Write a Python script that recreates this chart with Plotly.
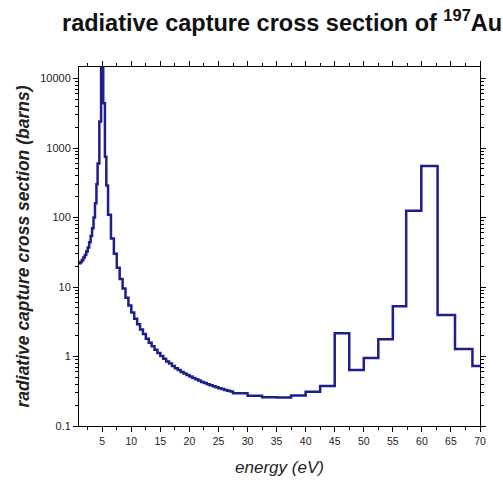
import plotly.graph_objects as go

# bin edges (eV) and radiative capture cross section per bin (barns)
edges = [1.0, 1.25, 1.5, 1.75, 2.0, 2.25, 2.5, 2.75, 3.0, 3.25, 3.5, 3.75, 4.0,
         4.2, 4.5, 4.8, 5.17, 5.46, 5.7, 6.0,
         6.5, 7.0, 7.5, 8.0, 8.5, 9.0, 9.5, 10.0, 10.5, 11.0, 11.5, 12.0, 12.5,
         13.0, 13.5, 14.0, 14.5, 15.0, 15.5, 16.0, 16.5, 17.0, 17.5, 18.0, 18.5,
         19.0, 19.5, 20.0, 20.5, 21.0, 21.5, 22.0, 22.5, 23.0, 23.5, 24.0, 24.5,
         25.0, 25.5, 26.0, 26.5, 27.0, 27.5, 30.0, 32.5, 35.0, 37.5, 40.0, 42.5,
         45.0, 47.5, 50.0, 52.5, 55.0, 57.3, 59.9, 62.7, 65.7, 68.7, 70.0]
sigma = [22, 23, 24.5, 26.5, 29, 32.5, 37, 44, 54, 70, 100, 160, 300,
         600, 2400, 18000, 4400, 750, 290,
         110, 50, 30, 19, 13, 9.5, 7, 5.4, 4.3, 3.5, 2.9, 2.45, 2.1, 1.8,
         1.58, 1.4, 1.25, 1.12, 1.02, 0.93, 0.85, 0.79, 0.73, 0.68, 0.64, 0.6,
         0.57, 0.54, 0.515, 0.49, 0.47, 0.45, 0.43, 0.415, 0.4, 0.385, 0.372,
         0.36, 0.35, 0.34, 0.33, 0.322, 0.314, 0.295, 0.272, 0.26, 0.258,
         0.275, 0.31, 0.375, 2.16, 0.64, 0.95, 1.77, 5.3, 125, 551, 3.95,
         1.28, 0.73]

x_ticks = [5, 10, 15, 20, 25, 30, 35, 40, 45, 50, 55, 60, 65, 70]
x_minor = [2.5, 7.5, 12.5, 17.5, 22.5, 27.5, 32.5, 37.5, 42.5, 47.5, 52.5,
           57.5, 62.5, 67.5]
y_ticks = [0.1, 1, 10, 100, 1000, 10000]
y_ticktext = ["0.1", "1", "10", "100", "1000", "10000"]
y_minor = [m * d for d in [0.1, 1, 10, 100, 1000, 10000] for m in range(2, 10)]

fig = go.Figure()
fig.add_trace(go.Scatter(
    x=edges, y=sigma + [sigma[-1]], mode="lines", line_shape="hv",
    line=dict(color="#1e1e8c", width=2.5), showlegend=False, hoverinfo="skip"))

axis_font = dict(family="Liberation Sans, Arial, sans-serif", color="#222222")

fig.update_layout(
    width=503, height=490,
    margin=dict(l=79, r=23, t=67, b=64),
    paper_bgcolor="white", plot_bgcolor="white",
    title=dict(text="radiative capture cross section of <sup>197</sup>Au",
               x=62/503, xanchor="left", xref="container",
               y=1 - 23/490, yanchor="middle",
               font=dict(family="Liberation Sans, Arial, sans-serif", size=23.5,
                         color="#111111", weight="bold")),
    xaxis=dict(range=[1, 70], showline=True, linecolor="black", linewidth=1,
               mirror="allticks", ticks="outside", ticklen=5, tickcolor="black",
               tickvals=x_ticks, showgrid=False, zeroline=False,
               tickfont=dict(size=10.5, **axis_font),
               minor=dict(tickvals=x_minor, ticks="outside", ticklen=3,
                          tickcolor="black", showgrid=False),
               title=dict(text="<i>energy (eV)</i>", standoff=15,
                          font=dict(size=17, **axis_font))),
    yaxis=dict(type="log", range=[-1, 4.166], showline=True, linecolor="black",
               linewidth=1, mirror="allticks", ticks="outside", ticklen=5,
               tickcolor="black", tickvals=y_ticks, ticktext=y_ticktext,
               showgrid=False, zeroline=False,
               tickfont=dict(size=11, **axis_font),
               minor=dict(tickvals=y_minor, ticks="outside", ticklen=3,
                          tickcolor="black", showgrid=False),
               title=dict(text="<i><b>radiative capture cross section (barns)</b></i>",
                          standoff=6, font=dict(size=17.5, **axis_font))),
)

fig.write_html("out.html")
